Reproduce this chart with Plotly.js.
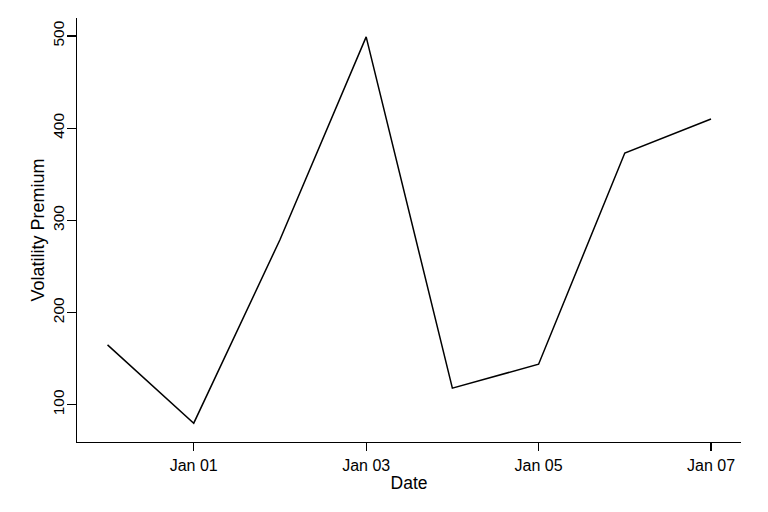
<!DOCTYPE html>
<html>
<head>
<meta charset="utf-8">
<script src="https://cdn.plot.ly/plotly-3.0.1.min.js"></script>
<style>html,body{margin:0;padding:0;background:#fff;}#chart{width:768px;height:512px;}</style>
</head>
<body>
<div id="chart"></div>
<script>
const dates = ["2023-12-31","2024-01-01","2024-01-02","2024-01-03","2024-01-04","2024-01-05","2024-01-06","2024-01-07"];
const premium = [165, 80, 279, 499, 118, 144, 373, 410];
const xTickVals = ["2024-01-01","2024-01-03","2024-01-05","2024-01-07"];
const xTickText = ["Jan 01","Jan 03","Jan 05","Jan 07"];
const yTickVals = [100, 200, 300, 400, 500];

const font = {family: "Liberation Sans, Arial, Helvetica, sans-serif", color: "#000"};

Plotly.newPlot("chart", [{
  x: dates, y: premium, type: "scatter", mode: "lines",
  line: {color: "#000", width: 1.5}, hoverinfo: "skip"
}], {
  width: 768, height: 512,
  margin: {l: 77, r: 27, t: 18, b: 70},
  paper_bgcolor: "#fff", plot_bgcolor: "#fff",
  showlegend: false,
  font: Object.assign({size: 16}, font),
  xaxis: {
    type: "date",
    range: ["2023-12-30 15:30", "2024-01-07 08:21"],
    tickvals: xTickVals, ticktext: xTickText,
    showgrid: false, zeroline: false,
    showline: true, linecolor: "#000", linewidth: 1.3,
    ticks: "outside", ticklen: 8, tickwidth: 1.3, tickcolor: "#000",
    tickfont: Object.assign({size: 16}, font),
    title: {text: "Date", font: Object.assign({size: 17.5}, font), standoff: 4}
  },
  yaxis: {
    range: [59.6, 519.5],
    tickvals: yTickVals,
    tickangle: -90,
    ticklabelstandoff: -3,
    showgrid: false, zeroline: false,
    showline: true, linecolor: "#000", linewidth: 1.3,
    ticks: "outside", ticklen: 9, tickwidth: 1.3, tickcolor: "#000",
    tickfont: Object.assign({size: 15.5}, font),
    title: {text: "Volatility Premium", font: Object.assign({size: 18}, font), standoff: 0}
  }
}, {staticPlot: true});
</script>
</body>
</html>
